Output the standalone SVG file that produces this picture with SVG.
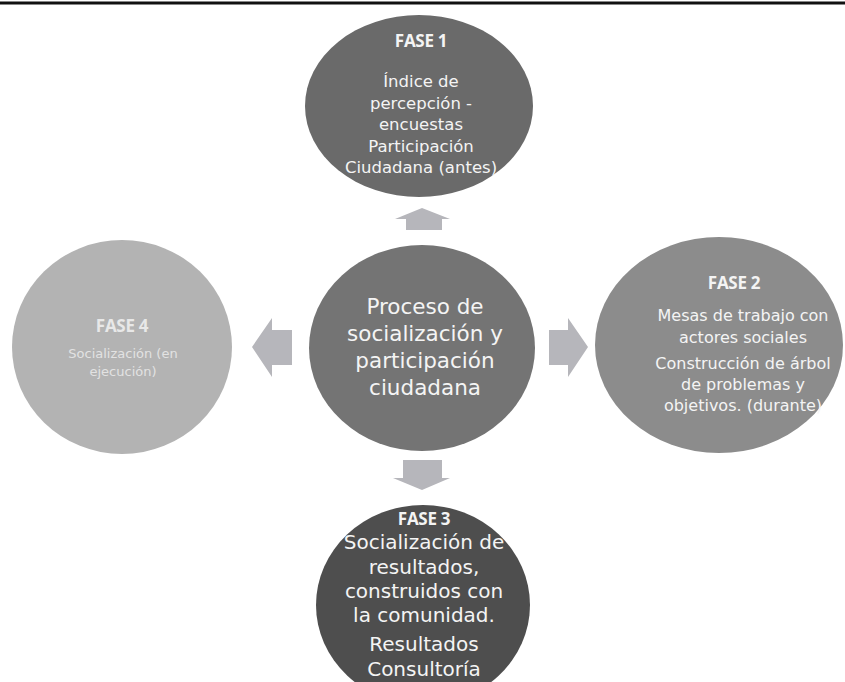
<svg xmlns="http://www.w3.org/2000/svg" width="845" height="682" viewBox="0 0 845 682">
<style>
.t{font-family:"DejaVu Sans","Open Sans",sans-serif;fill:#f4f4f4;text-anchor:middle}
.h{font-family:"Open Sans","Liberation Sans",sans-serif;font-weight:bold;font-size:17px;letter-spacing:-0.3px;fill:#f4f4f4;text-anchor:middle}
.arrow{fill:#b6b6bb}
</style>
<rect x="0" y="0" width="845" height="682" fill="#ffffff"/>
<line x1="0" y1="3" x2="845" y2="3" stroke="#111" stroke-width="3"/>
<g id="connectors">
<polygon class="arrow" points="422,208 450,219 442,219 442,230 406,230 406,219 395,219"/>
<polygon class="arrow" points="252,347 272,318 272,330 292,330 292,365 272,365 272,377"/>
<polygon class="arrow" points="588,347 568,318 568,330 549,330 549,365 568,365 568,377"/>
<polygon class="arrow" points="422,490 450,478 442,478 442,460 403,460 403,478 393,478"/>
</g>
<g id="fase1">
<ellipse cx="419" cy="106" rx="114" ry="91" fill="#6a6a6a"/>
<text class="h" x="421" y="47">FASE 1</text>
<text class="t" font-size="16.5" x="421"><tspan x="421" y="87">Índice de</tspan><tspan x="421" y="108.5">percepción -</tspan><tspan x="421" y="130">encuestas</tspan><tspan x="421" y="151.5">Participación</tspan><tspan x="421" y="173">Ciudadana (antes)</tspan></text>
</g>
<g id="centro">
<ellipse cx="422" cy="348" rx="113" ry="103" fill="#747474"/>
<text class="t" font-size="21.5" x="425"><tspan x="425" y="314">Proceso de</tspan><tspan x="425" y="341">socialización y</tspan><tspan x="425" y="368">participación</tspan><tspan x="425" y="395">ciudadana</tspan></text>
</g>
<g id="fase2">
<ellipse cx="719" cy="345" rx="124" ry="108" fill="#8c8c8c"/>
<text class="h" x="734" y="289">FASE 2</text>
<text class="t" font-size="16" x="743"><tspan x="743" y="321">Mesas de trabajo con</tspan><tspan x="743" y="343">actores sociales</tspan><tspan x="743" y="369">Construcción de árbol</tspan><tspan x="743" y="390">de problemas y</tspan><tspan x="743" y="411">objetivos.  (durante)</tspan></text>
</g>
<g id="fase4">
<ellipse cx="122" cy="347" rx="110" ry="107" fill="#b3b3b3"/>
<text class="h" x="122" y="332" style="fill:#e8e8e8">FASE 4</text>
<text class="t" font-size="13" x="123" style="fill:#e2e2e2"><tspan x="123" y="358">Socialización (en</tspan><tspan x="123" y="376">ejecución)</tspan></text>
</g>
<g id="fase3">
<ellipse cx="423" cy="605" rx="107" ry="100" fill="#4e4e4e"/>
<text class="h" x="424" y="525">FASE 3</text>
<text class="t" font-size="20" x="424"><tspan x="424" y="549">Socialización de</tspan><tspan x="424" y="574">resultados,</tspan><tspan x="424" y="598">construidos con</tspan><tspan x="424" y="622">la comunidad.</tspan><tspan x="424" y="651">Resultados</tspan><tspan x="424" y="676">Consultoría</tspan></text>
</g>
</svg>
